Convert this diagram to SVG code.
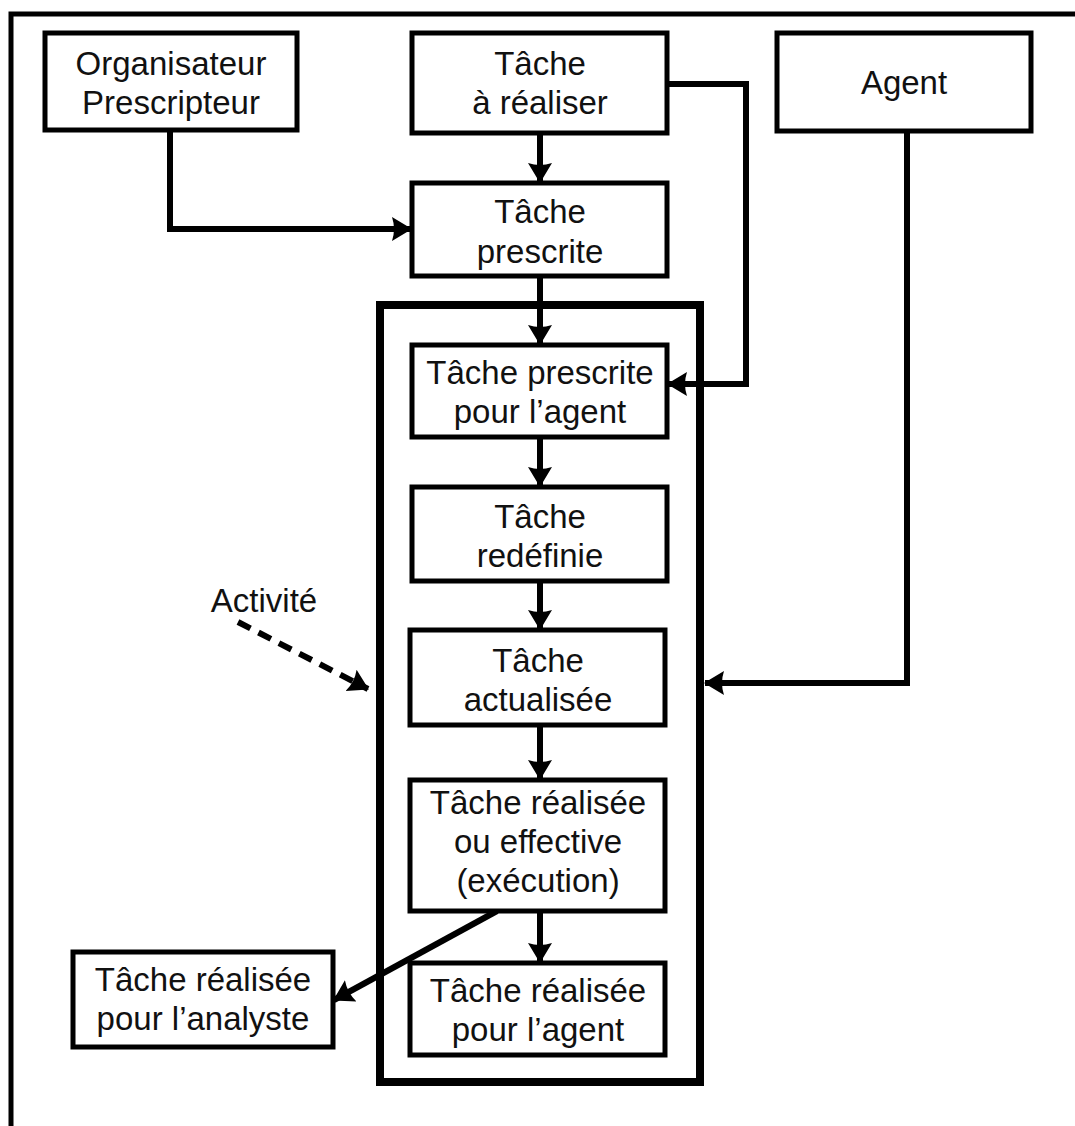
<svg xmlns="http://www.w3.org/2000/svg" width="1075" height="1126" viewBox="0 0 1075 1126">
<style>
.box{fill:#fff;stroke:#000;stroke-width:5}
.t{font-family:"Liberation Sans",Arial,sans-serif;font-size:33px;fill:#111;text-anchor:middle}
.c{fill:none;stroke:#000;stroke-width:6;stroke-linejoin:miter}
.d{fill:none;stroke:#000;stroke-width:6;stroke-dasharray:14,9}
</style>
<defs>
<marker id="ah" viewBox="0 0 20 26" markerWidth="20" markerHeight="26" refX="19" refY="13" orient="auto" markerUnits="userSpaceOnUse">
<path d="M0,1 L20,13 L0,25 Q4,13 0,1 z" fill="#000"/>
</marker>
</defs>
<rect width="1075" height="1126" fill="#fff"/>
<path d="M11,1126 L11,14 L1075,14" fill="none" stroke="#000" stroke-width="5"/>
<g id="activite-frame">
<rect x="380" y="305" width="320" height="777" fill="none" stroke="#000" stroke-width="8"/>
</g>
<g id="connectors">
<path class="c" d="M540,133 L540,182" marker-end="url(#ah)"/>
<path class="c" d="M170,130 L170,229 L411,229" marker-end="url(#ah)"/>
<path class="c" d="M540,276 L540,344" marker-end="url(#ah)"/>
<path class="c" d="M667,84 L746,84 L746,384 L668,384" marker-end="url(#ah)"/>
<path class="c" d="M540,437 L540,486" marker-end="url(#ah)"/>
<path class="c" d="M540,581 L540,629" marker-end="url(#ah)"/>
<path class="c" d="M540,725 L540,779" marker-end="url(#ah)"/>
<path class="c" d="M540,911 L540,962" marker-end="url(#ah)"/>
<path class="c" d="M497,911 L334,1000" marker-end="url(#ah)"/>
<path class="c" d="M907,131 L907,683 L705,683" marker-end="url(#ah)"/>
<path class="d" d="M238,622 L368,689" marker-end="url(#ah)"/>
</g>
<g id="organisateur">
<rect class="box" x="45" y="33" width="252" height="97"/>
<text class="t" x="171" y="75">Organisateur</text>
<text class="t" x="171" y="114">Prescripteur</text>
</g>
<g id="tache-a-realiser">
<rect class="box" x="412" y="33" width="255" height="100"/>
<text class="t" x="540" y="75">Tâche</text>
<text class="t" x="540" y="114">à réaliser</text>
</g>
<g id="agent">
<rect class="box" x="777" y="33" width="254" height="98"/>
<text class="t" x="904" y="94">Agent</text>
</g>
<g id="tache-prescrite">
<rect class="box" x="412" y="183" width="255" height="93"/>
<text class="t" x="540" y="223">Tâche</text>
<text class="t" x="540" y="263">prescrite</text>
</g>
<g id="tache-prescrite-agent">
<rect class="box" x="412" y="345" width="255" height="92"/>
<text class="t" x="540" y="384">Tâche prescrite</text>
<text class="t" x="540" y="423">pour l’agent</text>
</g>
<g id="tache-redefinie">
<rect class="box" x="412" y="487" width="255" height="94"/>
<text class="t" x="540" y="528">Tâche</text>
<text class="t" x="540" y="567">redéfinie</text>
</g>
<g id="tache-actualisee">
<rect class="box" x="410" y="630" width="255" height="95"/>
<text class="t" x="538" y="672">Tâche</text>
<text class="t" x="538" y="711">actualisée</text>
</g>
<g id="tache-realisee">
<rect class="box" x="410" y="780" width="255" height="131"/>
<text class="t" x="538" y="814">Tâche réalisée</text>
<text class="t" x="538" y="853">ou effective</text>
<text class="t" x="538" y="892">(exécution)</text>
</g>
<g id="tache-realisee-agent">
<rect class="box" x="410" y="963" width="255" height="92"/>
<text class="t" x="538" y="1002">Tâche réalisée</text>
<text class="t" x="538" y="1041">pour l’agent</text>
</g>
<g id="tache-realisee-analyste">
<rect class="box" x="73" y="952" width="260" height="95"/>
<text class="t" x="203" y="991">Tâche réalisée</text>
<text class="t" x="203" y="1030">pour l’analyste</text>
</g>
<g id="activite-label">
<text class="t" x="264" y="612">Activité</text>
</g>
</svg>
